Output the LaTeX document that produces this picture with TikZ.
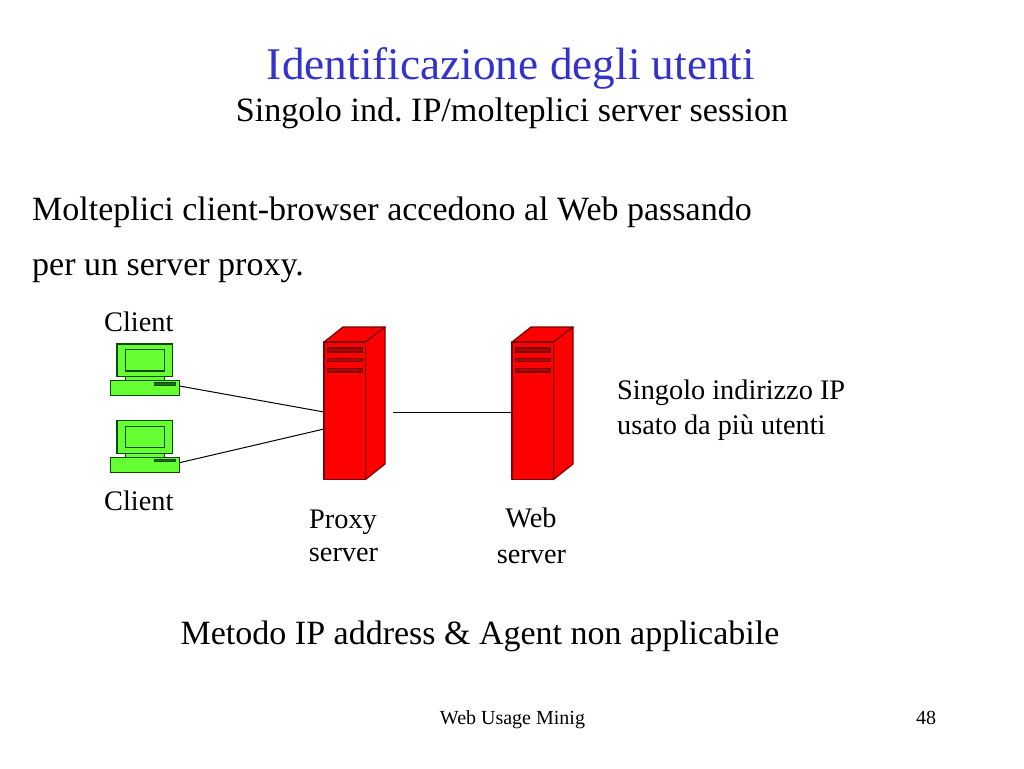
\documentclass[tikz,border=0pt]{standalone}
\usepackage{fontspec}
\setmainfont{Liberation Serif}
\frenchspacing
\definecolor{titleblue}{HTML}{3333CC}
\definecolor{pcgreen}{HTML}{66FF33}
\definecolor{pcline}{HTML}{0B4A00}
\definecolor{srvdark}{HTML}{7A0000}
\newcommand{\fsz}[1]{\fontsize{#1}{#1}\selectfont}
\tikzset{
  lbl/.style={inner sep=0pt,anchor=base west,text=black},
  lblc/.style={inner sep=0pt,anchor=base,text=black,align=center},
  wire/.style={draw=black,line width=1pt},
  pcpart/.style={draw=pcline,fill=pcgreen,line width=1.2pt},
  srv/.style={draw=srvdark,fill=red,line width=1.2pt,line join=round},
  slotbox/.style={draw=srvdark,fill=red!75!black,line width=1.2pt},
}
\newcommand{\pc}[2]{% name, y offset
  \begin{scope}[yshift=#2]
    \draw[pcpart] (117,344) rectangle (172.7,376.7);
    \draw[pcpart] (125.5,349.5) rectangle (164.5,371);
    \draw[pcpart] (125.5,376.7) rectangle (164.5,380.5);
    \draw[pcpart] (110.7,380.5) rectangle (179.5,395.5);
    \draw[draw=pcline,fill=pcline!80!pcgreen,line width=0.6pt] (154.5,382.5) rectangle (175,385);
    \coordinate (#1) at (179.5,386);
  \end{scope}}
\newcommand{\server}[1]{% x offset
  \begin{scope}[xshift=#1]
    \draw[srv] (324,342) -- (343,327) -- (385,327) -- (365.5,342) -- cycle;
    \draw[srv] (365.5,342) -- (385,327) -- (385,464) -- (365.5,479.5) -- cycle;
    \draw[srv] (324,342) rectangle (365.5,479.5);
    \draw[slotbox] (327.5,348) rectangle (362,352);
    \draw[slotbox] (327.5,358.5) rectangle (362,361.5);
    \draw[slotbox] (327.5,368.5) rectangle (362,372);
  \end{scope}}
\begin{document}
\begin{tikzpicture}[x=1pt,y=-1pt]
\useasboundingbox (0,0) rectangle (1024,768);
\fill[white] (0,0) rectangle (1024,768);
\node[lblc,text=titleblue,font=\fsz{45.3}] (title) at (511,79) {Identificazione degli utenti};
\node[lblc,font=\fsz{34.1}] (sub) at (512,121) {Singolo ind. IP/molteplici server session};
\node[lbl,font=\fsz{34}] (b1) at (32,220.5) {Molteplici client-browser accedono al Web passando};
\node[lbl,font=\fsz{34}] (b2) at (32,275.5) {per un server proxy.};
\node[lbl,font=\fsz{28.3}] (c1) at (104,331.5) {Client};
\node[lbl,font=\fsz{28.3}] (c2) at (104,510.5) {Client};
\pc{pcone}{0pt}
\pc{pctwo}{-76.7pt}
\server{0pt}
\server{188pt}
\coordinate (pxa) at (324,412);
\coordinate (pxb) at (324,429);
\coordinate (pxc) at (393,412);
\coordinate (wsa) at (512,412);
\draw[wire] (pcone) -- (pxa);
\draw[wire] (pctwo) -- (pxb);
\draw[wire] (pxc) -- (wsa);
\node[lbl,font=\fsz{28.3}] (s1) at (617,399.5) {Singolo indirizzo IP};
\node[lbl,font=\fsz{28.3}] (s2) at (617,434.5) {usato da più utenti};
\node[lblc,font=\fsz{28.3}] (p1) at (343,528.5) {Proxy};
\node[lblc,font=\fsz{28.3}] (p2) at (343.5,561.5) {server};
\node[lblc,font=\fsz{28.3}] (w1) at (531,527.5) {Web};
\node[lblc,font=\fsz{28.3}] (w2) at (531.5,563.5) {server};
\node[lblc,font=\fsz{34}] (m) at (480,644.5) {Metodo IP address \& Agent non applicabile};
\node[lblc,font=\fsz{20}] (f1) at (512.5,724.5) {Web Usage Minig};
\node[lblc,font=\fsz{20}] (f2) at (926,724.5) {48};
\end{tikzpicture}
\end{document}
